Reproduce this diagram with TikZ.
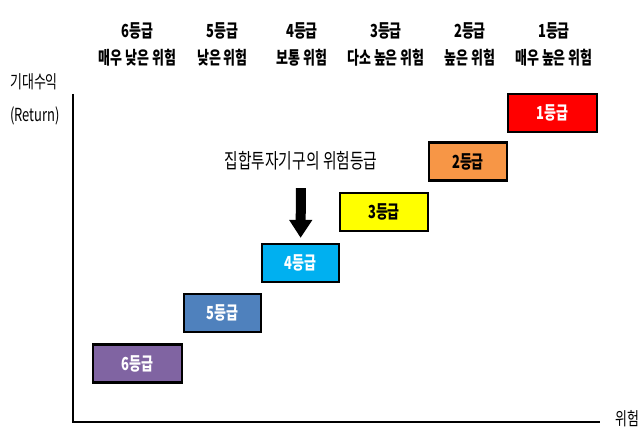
\documentclass[tikz,border=0pt]{standalone}
\usepackage{fontspec}
\setmainfont[FakeStretch=0.72]{Noto Sans CJK KR}
\usepackage{tikz}
\usetikzlibrary{arrows.meta}
\usetikzlibrary{positioning}

\definecolor{gradesix}{HTML}{8064A2}
\definecolor{gradefive}{HTML}{4F81BD}
\definecolor{gradefour}{HTML}{00B0F0}
\definecolor{gradethree}{HTML}{FFFF00}
\definecolor{gradetwo}{HTML}{F79646}
\definecolor{gradeone}{HTML}{FF0000}

\tikzset{
  gradebox/.style={draw=black, line width=2.2pt, minimum width=#1, minimum height=38pt,
    inner sep=0pt, font=\bfseries\fontsize{18}{18}\selectfont},
  toplabel/.style={inner sep=0pt, font=\bfseries\fontsize{18}{18}\selectfont},
  axislabel/.style={inner sep=0pt, font=\fontsize{18}{18}\selectfont},
  bigarrow/.style={line width=10pt, -{Triangle[length=18pt, width=22pt]}}
}

\begin{document}
\begin{tikzpicture}[x=1pt, y=-1pt]
  \useasboundingbox (0,0) rectangle (640,435);

    % axes
    \coordinate (ytop) at (73,94);
    \coordinate (origin) at (73,422);
    \coordinate (xend) at (600,422);
    \draw[line width=2pt] (ytop) -- (origin) -- (xend);
    \node[axislabel] (yname) at (34,82) {기대수익};
    \node[axislabel] (yreturn) at (35,116) {(Return)};
    \node[axislabel] (xname) at (627,419) {위험};

    % grades along the top
    \foreach \n/\x/\t in {6/137.5/매우 낮은 위험, 5/222.5/낮은 위험, 4/302/보통 위험,
      3/386/다소 높은 위험, 2/470/높은 위험, 1/554/매우 높은 위험} {
      \node[toplabel] (top\n) at (\x,31) {{\n}등급};
      \node[toplabel] (risk\n) at (\x,58) {\t};
    }

    % grade boxes
    \foreach \n/\x/\y/\w/\c/\tc in {6/137.5/363.5/89/gradesix/white,
      5/222.5/313/77/gradefive/white, 4/300.5/263/77/gradefour/white,
      3/384/212/88/gradethree/black, 2/468/161.5/78/gradetwo/black,
      1/552.5/113/89/gradeone/white} {
      \node[gradebox=\w, fill=\c, text=\tc] (g\n) at (\x,\y) {{\n}등급};
    }

    \node[inner sep=0pt, text height=15pt, text depth=4pt,
      font=\fontsize{20.5}{20.5}\selectfont] (title) at (301,163) {집합투자기구의 위험등급};
    \draw[bigarrow, shorten <=15.5pt, shorten >=5pt] (title) -- (g4);

  \end{tikzpicture}
\end{document}
